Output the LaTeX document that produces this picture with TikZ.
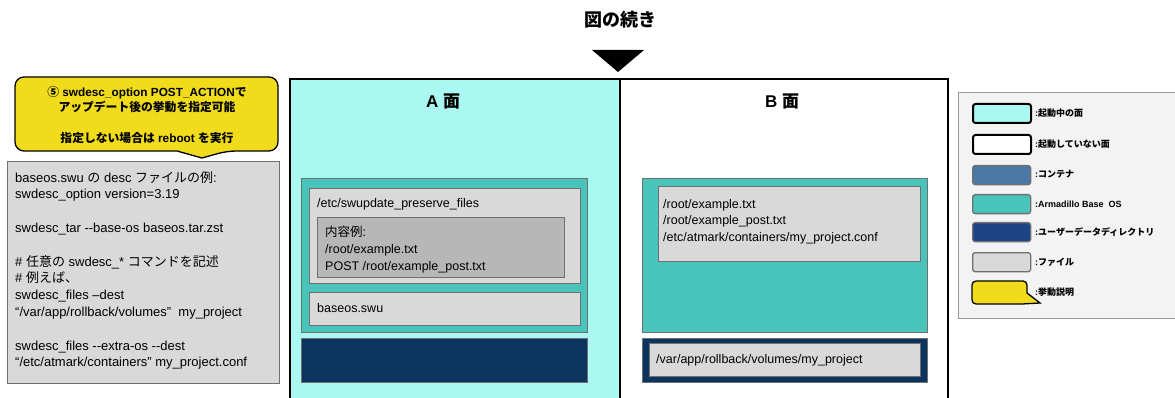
\documentclass[tikz,border=0pt]{standalone}
\usepackage{fontspec}
\setmainfont{Liberation Sans}
\newfontfamily\jp{Noto Sans CJK JP}
\definecolor{activeC}{HTML}{A9F8F2}
\definecolor{osC}{HTML}{48C4BA}
\definecolor{udC}{HTML}{0B355F}
\definecolor{udL}{HTML}{1D4487}
\definecolor{contC}{HTML}{4A79A5}
\definecolor{fileC}{HTML}{D9D9D9}
\definecolor{fileD}{HTML}{B7B7B7}
\definecolor{noteC}{HTML}{F1DC1B}
\definecolor{legC}{HTML}{F3F3F3}
\definecolor{edgeC}{HTML}{707070}
\tikzset{
  box/.style={rectangle, inner sep=0pt, anchor=north west, draw=edgeC, line width=1.3pt},
  face/.style={rectangle, inner sep=0pt, anchor=north west, draw=black, line width=2.2pt},
  swatch/.style={rectangle, inner sep=0pt, anchor=north west, rounded corners=2.5pt, minimum width=58pt, minimum height=19pt, draw=edgeC, line width=1.3pt},
  swface/.style={swatch, draw=black, line width=2pt},
  txt/.style={inner sep=0pt, anchor=west, font=\fontsize{12.5}{16.7}\selectfont, align=left},
  leg/.style={inner sep=0pt, anchor=west, font=\fontsize{9}{10}\selectfont\bfseries},
  title/.style={inner sep=0pt, font=\fontsize{17}{20}\selectfont\bfseries},
  note/.style={inner sep=0pt, font=\fontsize{11.8}{13}\selectfont\bfseries},
}
\begin{document}
\begin{tikzpicture}[x=1pt,y=-1pt]
\useasboundingbox (0,0) rectangle (1175,398);
\clip (0,0) rectangle (1175,398);
% title
\node[title, font=\fontsize{18}{20}\selectfont\bfseries\jp] (ttl) at (620,20) {図の続き};
\fill (592,50) -- (644,50) -- (618,72) -- cycle;
% panels
\node[face, fill=activeC, minimum width=330pt, minimum height=340pt] (pa) at (289,78) {};
\node[face, fill=white, minimum width=328pt, minimum height=340pt] (pb) at (619,78) {};
\node[title] (ta) at (443,101) {A {\jp 面}};
\node[title] (tb) at (782,101) {B {\jp 面}};
% A side
\node[box, fill=osC, minimum width=286pt, minimum height=154pt] (osa) at (301,178) {};
\node[box, fill=fileC, minimum width=271pt, minimum height=95pt] (pf) at (309,188) {};
\node[txt] (pft) at (317,204) {/etc/swupdate\_preserve\_files};
\node[box, fill=fileD, minimum width=247pt, minimum height=60pt] (pfc) at (317,217) {};
\node[txt, anchor=north west] (pfct) at (325,226) {{\jp 内容例}:\\/root/example.txt\\POST /root/example\_post.txt};
\node[box, fill=fileC, minimum width=271pt, minimum height=33pt] (swu) at (309,292) {};
\node[txt] (swut) at (317,308) {baseos.swu};
\node[box, fill=udC, minimum width=286pt, minimum height=44pt] (uda) at (301,338) {};
% B side
\node[box, fill=osC, minimum width=285pt, minimum height=154pt] (osb) at (642,178) {};
\node[box, fill=fileC, minimum width=262pt, minimum height=75pt] (fb) at (658,186) {};
\node[txt, anchor=north west] (fbt) at (663,199) {/root/example.txt\\/root/example\_post.txt\\/etc/atmark/containers/my\_project.conf};
\node[box, fill=udC, minimum width=285pt, minimum height=44pt] (udb) at (642,338) {};
\node[box, fill=fileC, minimum width=271pt, minimum height=33pt] (vb) at (649,343) {};
\node[txt] (vbt) at (656,360) {/var/app/rollback/volumes/my\_project};
% callout
\draw[fill=noteC, draw=black, line width=1.3pt] (15,115) [rounded corners=9pt] -- (15,77) -- (278,77) -- (278,151) -- (227,151) [sharp corners] -- (202,158) -- (177,151) [rounded corners=9pt] -- (15,151) -- cycle;
\node[note] (n1) at (147,93) {{\jp ⑤} swdesc\_option POST\_ACTION{\jp で}};
\node[note] (n2) at (147,107) {\jp アップデート後の挙動を指定可能};
\node[note] (n3) at (147,138) {{\jp 指定しない場合は} reboot {\jp を実行}};
% description box
\node[box, fill=fileC, minimum width=272pt, minimum height=222pt] (desc) at (7,161) {};
\node[txt, anchor=north west, font=\fontsize{13}{16.8}\selectfont] (desct) at (15,171) {baseos.swu {\jp の} desc {\jp ファイルの例}:\\
swdesc\_option version=3.19\\[16.8pt]
swdesc\_tar -{}-base-os baseos.tar.zst\\[16.8pt]
\# {\jp 任意の} swdesc\_* {\jp コマンドを記述}\\
\# {\jp 例えば、}\\
swdesc\_files –dest\\
“/var/app/rollback/volumes”\ \ my\_project\\[16.8pt]
swdesc\_files -{}-extra-os -{}-dest\\
“/etc/atmark/containers” my\_project.conf};
% legend
\node[rectangle, anchor=north west, inner sep=0pt, fill=legC, draw=gray!80, line width=1pt, minimum width=230pt, minimum height=226pt] (legend) at (958,92) {};
\node[swface, fill=activeC] (l1) at (972,103) {};
\node[leg] (l1t) at (1035,113) {:{\jp 起動中の面}};
\node[swface, fill=white] (l2) at (972,134) {};
\node[leg] (l2t) at (1035,144) {:{\jp 起動していない面}};
\node[swatch, fill=contC] (l3) at (972,165) {};
\node[leg] (l3t) at (1035,174) {:{\jp コンテナ}};
\node[swatch, fill=osC] (l4) at (972,194) {};
\node[leg] (l4t) at (1035,204) {:Armadillo Base\ \ OS};
\node[swatch, fill=udL] (l5) at (972,222) {};
\node[leg] (l5t) at (1035,232) {:{\jp ユーザーデータディレクトリ}};
\node[swatch, fill=fileC] (l6) at (972,252) {};
\node[leg] (l6t) at (1035,262) {:{\jp ファイル}};
\draw[fill=noteC, draw=black, line width=1.3pt] (972,292) [rounded corners=4pt] -- (972,281) -- (1027,281) [sharp corners] -- (1027,293) -- (1040,303) -- (1022,304) [rounded corners=4pt] -- (972,304) -- cycle;
\node[leg] (l7t) at (1035,292) {:{\jp 挙動説明}};
\end{tikzpicture}
\end{document}
